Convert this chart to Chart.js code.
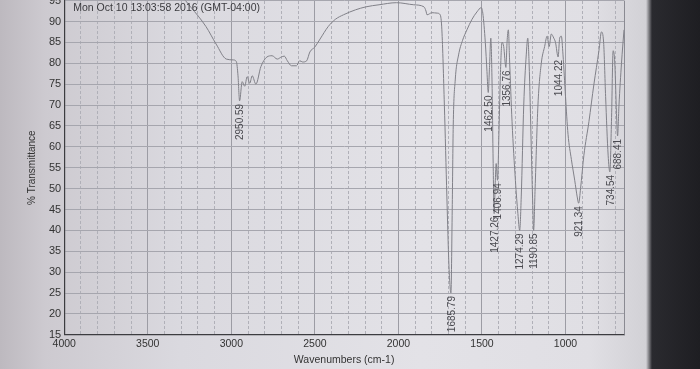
<!DOCTYPE html>
<html>
<head>
<meta charset="utf-8">
<script src="https://cdn.jsdelivr.net/npm/chart.js@4.4.0/dist/chart.umd.min.js"></script>
<style>
html,body{margin:0;padding:0;}
body{width:700px;height:369px;overflow:hidden;position:relative;
  background:linear-gradient(to right,#bdb9bf 0px,#cdcad0 45px,#dad9df 180px,#e3e2e7 420px,#e0dfe4 590px,#d2d1d6 646px,#2a2a2f 652px,#1e1e22 700px);}
#wrap{position:absolute;left:0;top:-9px;width:700px;height:378px;}
</style>
</head>
<body>
<div id="wrap"><canvas id="c"></canvas></div>
<script>
// spectrum (wavenumber, %T)
const wavenumbers = [4000,3800,3600,3400,3300,3244,3152,3091,3030,2988,2970,2960,2950.59,2935,2920,2905,2890,2875,2853,2823,
  2787,2756,2725,2701,2683,2665,2640,2610,2591,2573,2549,2530,2500,2469,2420,2378,2329,2256,2195,2116,
  2012,1908,1847,1835,1829,1799,1768,1750,1740,1725,1710,1698,1685.79,1678,1672,1660,1640,1616,1590,1560,
  1530,1505,1495,1480,1470,1462.5,1455,1447,1440,1433,1427.26,1420,1415,1406.94,1398,1390,1380,1370,1356.76,1350,
  1342,1335,1320,1300,1285,1274.29,1265,1250,1235,1226,1218,1205,1196,1190.85,1182,1165,1145,1125,1110,1098,
  1085,1070,1060,1044.22,1035,1025,1015,1000,985,965,945,930,921.34,910,890,860,830,800,785,772,
  760,745,734.54,725,715,705,695,688.41,680,665,650];
const transmittance = [97,97,97.5,97,96,93.5,88.8,84.6,81,80.8,80.4,77,71,75.6,74.5,76.8,75.2,77,75,79.2,
  81.5,81.8,81,81.5,81.7,80.6,79.4,79.4,80.6,80.3,80.6,82.7,83.9,85.8,88.8,90.5,91.6,92.8,93.5,94,
  94.5,94,93.5,92.5,91.6,92.1,92,91.6,88,70,48,32,25,45,65,76,82,85.5,88,90.5,
  92.3,93.3,92,85,78,73,79,86,76,56,44,52,56,52,64,77,85,84,79,85,
  88,81,66,52,44,40,48,70,82,86,80,60,46,40,50,70,80,84,86.5,84,
  87,86,85,81.5,86,86.5,82,72,63,57,52,48,46.5,50,58,66,75,83,87.5,85,
  72,58,54,66,83,80,68,62.6,70,80,88];

const peakWavenumbers = [2950.59,1685.79,1462.50,1427.26,1406.94,1356.76,1274.29,1190.85,1044.22,921.34,734.54,688.41];
const peakTransmittance = [71,25,73,44,52,79,40,40,81.5,46.5,54,62.6];

const xTickValues = [4000,3500,3000,2500,2000,1500,1000];
const yMin = 15, yMax = 95;

const font = 'Arial, "Liberation Sans", sans-serif';

const peakLabelPlugin = {
  id: 'peakLabels',
  beforeDatasetsDraw(chart) {
    const {ctx, chartArea: a} = chart;
    ctx.save();
    ctx.strokeStyle = '#8a8a92';
    ctx.lineWidth = 1;
    ctx.beginPath();
    ctx.moveTo(a.right + 0.5, a.top);
    ctx.lineTo(a.right + 0.5, a.bottom);
    ctx.stroke();
    ctx.restore();
  },
  afterDatasetsDraw(chart) {
    const {ctx, chartArea: a, scales} = chart;
    ctx.save();
    ctx.fillStyle = '#3a3a3e';
    ctx.font = '10.5px ' + font;
    ctx.textBaseline = 'middle';
    ctx.fillText('Mon Oct 10 13:03:58 2016 (GMT-04:00)', a.left + 9, a.top + 8);

    ctx.font = '10px ' + font;
    ctx.fillStyle = '#4a4a50';
    peakWavenumbers.forEach((w, i) => {
      const x = scales.x.getPixelForValue(w);
      const y = scales.y.getPixelForValue(peakTransmittance[i]);
      ctx.save();
      ctx.translate(x + 1, y + 3);
      ctx.rotate(-Math.PI / 2);
      ctx.textAlign = 'right';
      ctx.fillText(w.toFixed(2), 0, 0);
      ctx.restore();
    });
    ctx.restore();
  }
};

new Chart(document.getElementById('c'), {
  type: 'line',
  data: {
    datasets: [{
      data: wavenumbers.map((w, i) => ({x: w, y: transmittance[i]})),
      borderColor: '#808088',
      borderWidth: 1,
      pointRadius: 0,
      cubicInterpolationMode: 'monotone',
      xAxisID: 'x',
      yAxisID: 'y'
    }]
  },
  options: {
    responsive: true,
    maintainAspectRatio: false,
    animation: false,
    layout: {padding: {left: 26, right: 76, top: 0, bottom: 3}},
    plugins: {legend: {display: false}, tooltip: {enabled: false}},
    scales: {
      x: {
        type: 'linear', reverse: true, min: 650, max: 4000,
        afterBuildTicks: s => { s.ticks = xTickValues.map(v => ({value: v})); },
        ticks: {color: '#333', font: {family: font, size: 10.5}, padding: 3, maxRotation: 0, callback: v => String(v)},
        grid: {color: '#9c9ca4', lineWidth: 1, drawTicks: false},
        border: {color: '#3c3c40', width: 1.2},
        title: {display: true, text: 'Wavenumbers (cm-1)', color: '#333', font: {family: font, size: 10.5}, padding: {top: 0, bottom: 0}}
      },
      x2: {
        type: 'linear', reverse: true, min: 650, max: 4000, position: 'top',
        afterBuildTicks: s => {
          const t = [];
          for (let v = 700; v < 4000; v += 100) if (v % 500 !== 0) t.push({value: v});
          s.ticks = t;
        },
        ticks: {display: false},
        grid: {color: '#b0b0b8', lineWidth: 1, drawTicks: false},
        border: {display: false, dash: [3, 2]}
      },
      y: {
        min: yMin, max: yMax,
        ticks: {stepSize: 5, color: '#333', font: {family: font, size: 11}, padding: 3},
        grid: {color: '#a6a6ae', lineWidth: 1, drawTicks: false},
        border: {color: '#3c3c40', width: 1.2},
        title: {display: true, text: '% Transmittance', color: '#333', font: {family: font, size: 10}, padding: {top: 0, bottom: 8}}
      }
    }
  },
  plugins: [peakLabelPlugin]
});
</script>
</body>
</html>
